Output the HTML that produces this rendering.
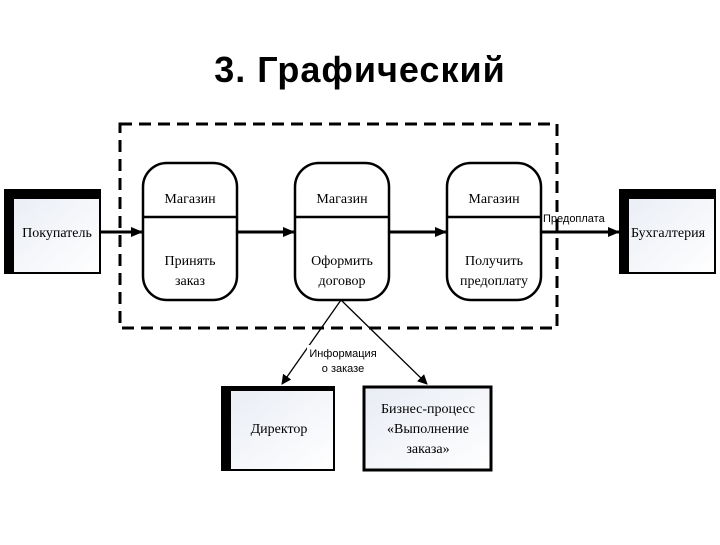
<!DOCTYPE html>
<html><head><meta charset="utf-8"><style>
body{margin:0;width:720px;height:540px;background:#fff;overflow:hidden;}
svg text{font-family:"Liberation Serif",serif;fill:#000;}
</style></head><body>
<svg width="720" height="540" viewBox="0 0 720 540" xmlns="http://www.w3.org/2000/svg">
<defs>
<marker id="a" markerWidth="10" markerHeight="10" refX="9" refY="5" orient="auto" markerUnits="userSpaceOnUse"><path d="M0,0 L10,5 L0,10 z" fill="#000"/></marker>
<marker id="b" markerWidth="12" markerHeight="10" refX="11" refY="5" orient="auto" markerUnits="userSpaceOnUse"><path d="M0,0 L12,5 L0,10 z" fill="#000"/></marker>
<linearGradient id="g" x1="0" y1="0" x2="1" y2="1"><stop offset="0" stop-color="#e8ecf4"/><stop offset="1" stop-color="#fff"/></linearGradient>
</defs>
<text x="360" y="82" text-anchor="middle" style="font-family:'Liberation Sans',sans-serif;font-weight:bold;font-size:36px;letter-spacing:1px">3. Графический</text>
<rect x="120" y="124" width="437" height="204" fill="none" stroke="#000" stroke-width="3" stroke-dasharray="12,7"/>
<rect x="5" y="190" width="95" height="83" fill="url(#g)" stroke="#000" stroke-width="2"/>
<rect x="5" y="190" width="95" height="9" fill="#000"/><rect x="5" y="190" width="9" height="83" fill="#000"/>
<text x="57" y="237" font-size="14" text-anchor="middle">Покупатель</text>
<rect x="620" y="190" width="95" height="83" fill="url(#g)" stroke="#000" stroke-width="2"/>
<rect x="620" y="190" width="95" height="9" fill="#000"/><rect x="620" y="190" width="9" height="83" fill="#000"/>
<text x="668" y="237" font-size="14" text-anchor="middle">Бухгалтерия</text>
<g stroke="#000" stroke-width="2.5" fill="#fff">
<rect x="143" y="163" width="94" height="137" rx="24"/>
<rect x="295" y="163" width="94" height="137" rx="24"/>
<rect x="447" y="163" width="94" height="137" rx="24"/>
<line x1="143" y1="217" x2="237" y2="217"/><line x1="295" y1="217" x2="389" y2="217"/><line x1="447" y1="217" x2="541" y2="217"/>
</g>
<g font-size="14" text-anchor="middle">
<text x="190" y="203">Магазин</text><text x="342" y="203">Магазин</text><text x="494" y="203">Магазин</text>
<text x="190" y="265">Принять</text><text x="190" y="285">заказ</text>
<text x="342" y="265">Оформить</text><text x="342" y="285">договор</text>
<text x="494" y="265">Получить</text><text x="494" y="285">предоплату</text>
</g>
<g stroke="#000" stroke-width="3">
<line x1="100" y1="232" x2="142" y2="232" marker-end="url(#b)"/>
<line x1="237" y1="232" x2="294" y2="232" marker-end="url(#b)"/>
<line x1="389" y1="232" x2="446" y2="232" marker-end="url(#b)"/>
<line x1="541" y1="232" x2="619" y2="232" marker-end="url(#b)"/>
</g>
<text x="543" y="222" font-size="11" style="font-family:'Liberation Sans',sans-serif">Предоплата</text>
<g stroke="#000" stroke-width="1.3">
<line x1="341" y1="300" x2="282" y2="384" marker-end="url(#a)"/>
<line x1="341" y1="300" x2="427" y2="384" marker-end="url(#a)"/>
</g>
<rect x="307" y="345" width="72" height="30" fill="#fff"/>
<text x="343" y="357" font-size="11" text-anchor="middle" style="font-family:'Liberation Sans',sans-serif">Информация</text>
<text x="343" y="372" font-size="11" text-anchor="middle" style="font-family:'Liberation Sans',sans-serif">о заказе</text>
<rect x="222" y="387" width="112" height="83" fill="url(#g)" stroke="#000" stroke-width="2"/>
<rect x="222" y="387" width="112" height="4" fill="#000"/><rect x="222" y="387" width="9" height="83" fill="#000"/>
<text x="279" y="433" font-size="14" text-anchor="middle">Директор</text>
<rect x="364" y="387" width="127" height="83" fill="url(#g)" stroke="#000" stroke-width="3"/>
<g font-size="14" text-anchor="middle">
<text x="428" y="413">Бизнес-процесс</text>
<text x="428" y="433">«Выполнение</text>
<text x="428" y="453">заказа»</text>
</g>
</svg>
</body></html>
